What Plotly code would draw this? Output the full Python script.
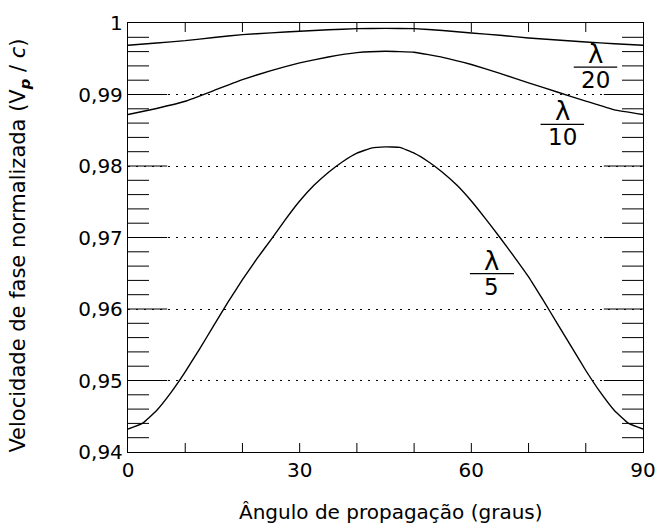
import plotly.graph_objects as go

# ---- data ----
angle_l20 = [0, 5, 10, 15, 20, 25, 30, 35, 40, 45, 50, 55, 60, 65, 70, 75, 80, 85, 90]
vp_l20 = [0.99689, 0.99720, 0.99753, 0.99797, 0.99837, 0.99862, 0.99884, 0.99905, 0.99921, 0.99925,
          0.99921, 0.99895, 0.99861, 0.99828, 0.99791, 0.99762, 0.99735, 0.99710, 0.99689]

angle_l10 = [0, 5, 10, 15, 20, 25, 30, 35, 40, 45, 50, 55, 60, 65, 70, 75, 80, 85, 90]
vp_l10 = [0.98721, 0.98805, 0.98905, 0.99055, 0.99209, 0.99335, 0.99442, 0.99525, 0.99586, 0.99605,
          0.99591, 0.99520, 0.99419, 0.99295, 0.99163, 0.99035, 0.98908, 0.98785, 0.98721]

angle_l5 = [0, 2.5, 5, 7.5, 10, 12.5, 15, 17.5, 20, 22.5, 25, 27.5, 30, 32.5, 35, 37.5, 40, 42.5, 45,
            47.5, 50, 52.5, 55, 57.5, 60, 62.5, 65, 67.5, 70, 72.5, 75, 77.5, 80, 82.5, 85, 87.5, 90]
vp_l5 = [0.9432, 0.9440, 0.9458, 0.9483, 0.9512, 0.9544, 0.9577, 0.9610, 0.9641, 0.9670, 0.9697,
         0.9725, 0.9751, 0.9773, 0.9791, 0.9806, 0.9818, 0.9825, 0.98268,
         0.9826, 0.9818, 0.9806, 0.9791, 0.9773, 0.9751, 0.9726, 0.9700, 0.9673, 0.9645,
         0.9613, 0.9580, 0.9547, 0.9514, 0.9484, 0.9458, 0.9440, 0.9432]

# tick values
x_tick_labels_vals = [0, 30, 60, 90]
x_minor_ticks = [10, 20, 30, 40, 50, 60, 70, 80]
y_major_ticks = [0.95, 0.96, 0.97, 0.98, 0.99]
y_minor_ticks = [0.942, 0.944, 0.946, 0.948, 0.952, 0.954, 0.956, 0.958, 0.962, 0.964, 0.966, 0.968,
                 0.972, 0.974, 0.976, 0.978, 0.982, 0.984, 0.986, 0.988, 0.992, 0.994, 0.996, 0.998]

x_title = "Ângulo de propagação (graus)"
y_title = "Velocidade de fase normalizada (V<sub><b><i>p</i></b></sub> / <i>c</i>)"

curve_labels = ["20", "10", "5"]
label_angle = [81.7, 75.9, 63.6]
label_bar_value = [0.99382, 0.98582, 0.96495]
label_bar_halfwidth = [3.8, 3.8, 3.85]

FONT = "DejaVu Sans"
X_MIN, X_MAX = 0, 90
Y_MIN, Y_MAX = 0.94, 1.0
W, H = 659, 528
M_L, M_R, M_T, M_B = 128, 16, 23, 76
X_TICK_PX = 9
y_per_px = (Y_MAX - Y_MIN) / (H - M_T - M_B)
x_tick_len = X_TICK_PX * y_per_px

fig = go.Figure()

# inner tick marks on the left/right sides (half of each centred marker is clipped by the plot area)
def tick_trace(xs, ys, symbol, size):
    return go.Scatter(x=xs, y=ys, mode="markers", cliponaxis=True, showlegend=False, hoverinfo="skip",
                      marker=dict(symbol=symbol, size=size, color="black",
                                  line=dict(color="black", width=1)))

fig.add_trace(tick_trace([X_MIN] * len(y_major_ticks) + [X_MAX] * len(y_major_ticks),
                         y_major_ticks * 2, "line-ew", 56))
fig.add_trace(tick_trace([X_MIN] * len(y_minor_ticks) + [X_MAX] * len(y_minor_ticks),
                         y_minor_ticks * 2, "line-ew", 30))

# inner tick marks on bottom/top sides
tx, ty = [], []
for t in x_minor_ticks:
    tx += [t, t, None, t, t, None]
    ty += [Y_MIN, Y_MIN + x_tick_len, None, Y_MAX, Y_MAX - x_tick_len, None]
fig.add_trace(go.Scatter(x=tx, y=ty, mode="lines", line=dict(color="black", width=1),
                         showlegend=False, hoverinfo="skip"))

for xs, ys in [(angle_l20, vp_l20), (angle_l10, vp_l10), (angle_l5, vp_l5)]:
    fig.add_trace(go.Scatter(x=xs, y=ys, mode="lines",
                             line=dict(color="black", width=1.4, shape="spline", smoothing=0.3),
                             showlegend=False, hoverinfo="skip"))

# fraction labels lambda / N
for txt, xa, yb, hw in zip(curve_labels, label_angle, label_bar_value, label_bar_halfwidth):
    fig.add_shape(type="line", x0=xa - hw, x1=xa + hw, y0=yb, y1=yb,
                  line=dict(color="black", width=1.2), xref="x", yref="y")
    fig.add_annotation(x=xa, y=yb, text="λ", showarrow=False, xanchor="center", yanchor="bottom",
                       yshift=-4, font=dict(family=FONT, size=26, color="black"))
    fig.add_annotation(x=xa, y=yb, text=txt, showarrow=False, xanchor="center", yanchor="top",
                       yshift=2, font=dict(family=FONT, size=23, color="black"))

fig.add_annotation(xref="paper", yref="paper", x=0.511, y=-0.141, text=x_title, showarrow=False,
                   xanchor="center", yanchor="middle", font=dict(family=FONT, size=20, color="black"))
fig.add_annotation(xref="paper", yref="paper", x=-0.2106, y=0.48, text=y_title, showarrow=False,
                   textangle=-90, xanchor="center", yanchor="middle",
                   font=dict(family=FONT, size=21, color="black"))

fig.update_layout(
    template="none",
    width=W, height=H,
    margin=dict(l=M_L, r=M_R, t=M_T, b=M_B, autoexpand=False),
    paper_bgcolor="white", plot_bgcolor="white",
    font=dict(family=FONT, size=20, color="black"),
    separators=",.",
    showlegend=False,
)
fig.update_xaxes(
    range=[X_MIN, X_MAX], tickmode="array", tickvals=x_tick_labels_vals, ticks="",
    showline=True, linecolor="black", linewidth=1.3, mirror=True,
    showgrid=False, zeroline=False,
    tickfont=dict(family=FONT, size=20, color="black"),
)
fig.update_yaxes(
    range=[Y_MIN, Y_MAX], tickmode="linear", tick0=0.94, dtick=0.01, ticks="",
    showline=True, linecolor="black", linewidth=1.3, mirror=True,
    showgrid=True, gridcolor="black", gridwidth=1, griddash="2px,6px",
    zeroline=False,
    tickfont=dict(family=FONT, size=20, color="black"),
)

fig.write_html("out.html")
